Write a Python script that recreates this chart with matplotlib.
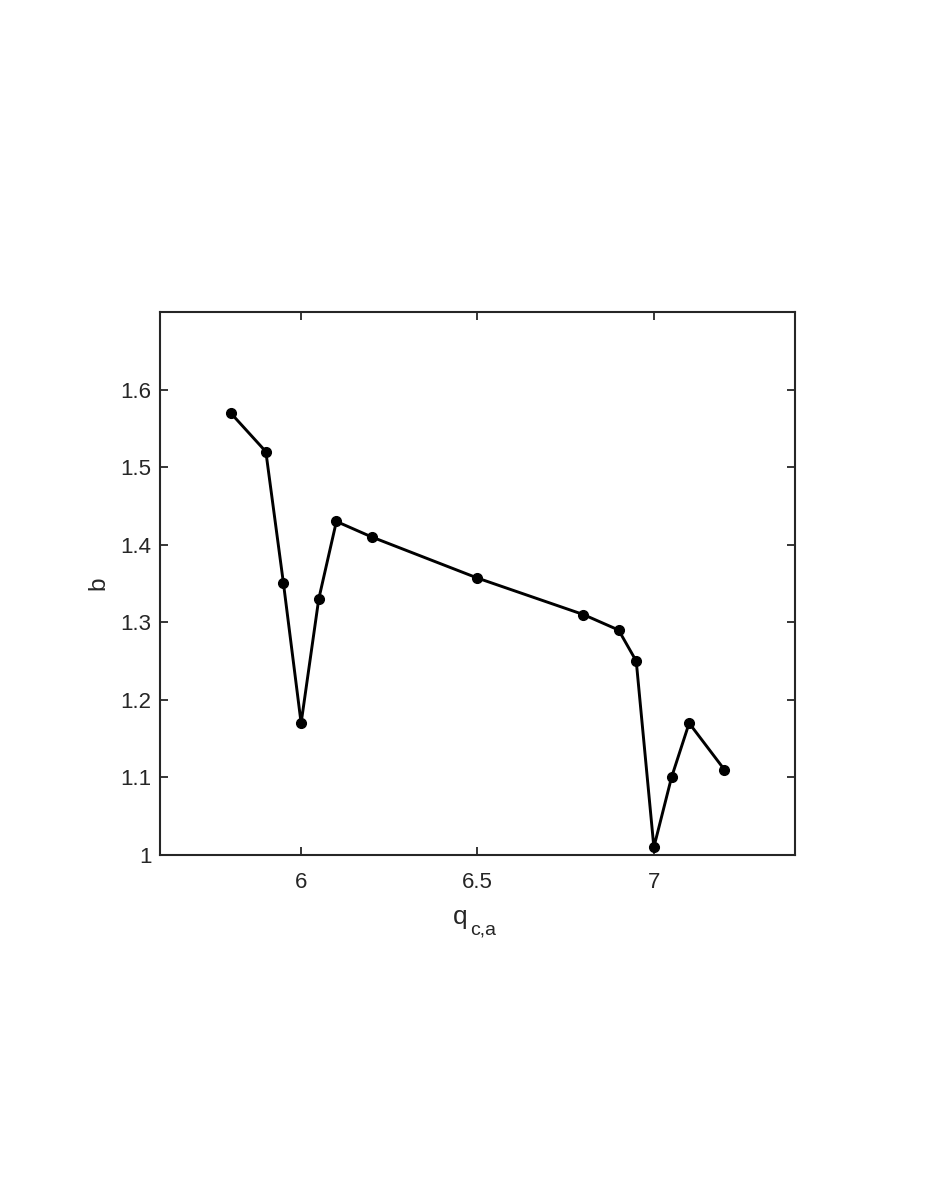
# b vs q_c,a curve, MATLAB-looking figure
import numpy as np
import matplotlib.pyplot as plt

# data
qca = [5.8, 5.9, 5.95, 6.0, 6.05, 6.1, 6.2, 6.5, 6.8, 6.9, 6.95, 7.0, 7.05, 7.1, 7.2]
bvals = [1.57, 1.52, 1.35, 1.17, 1.33, 1.43, 1.41, 1.357, 1.31, 1.29, 1.25, 1.01, 1.10, 1.17, 1.11]
xticks = [6, 6.5, 7]
xtlabels = ['6', '6.5', '7']
yticks = [1, 1.1, 1.2, 1.3, 1.4, 1.5, 1.6]
ytlabels = ['1', '1.1', '1.2', '1.3', '1.4', '1.5', '1.6']

plt.rcParams['font.family'] = ['Liberation Sans', 'DejaVu Sans']
axcol = '#262626'

fig = plt.figure(figsize=(9.26, 11.99), dpi=100)
ax = fig.add_axes([0.1728, 0.2869, 0.6857, 0.4529])

ax.plot(qca, bvals, '-o', color='k', linewidth=2.1, markersize=7)

ax.set_xlim(5.6, 7.4)
ax.set_ylim(1.0, 1.7)
ax.set_xticks(xticks)
ax.set_xticklabels(xtlabels)
ax.set_yticks(yticks)
ax.set_yticklabels(ytlabels)

# ticks inside, on all four sides
ax.tick_params(direction='in', top=True, right=True, length=6, width=1.3,
               colors=axcol, labelsize=16)
ax.tick_params(axis='x', pad=12)
ax.tick_params(axis='y', pad=6)
for s in ax.spines.values():
    s.set_color(axcol)
    s.set_linewidth(1.5)

# x label done by hand, matlab puts the subscript bigger and lower than mathtext
ax.annotate('q', xy=(0.5, 0), xycoords='axes fraction', xytext=(-17.6, -50),
            textcoords='offset points', ha='left', va='baseline',
            fontsize=19, color=axcol)
ax.annotate('c,a', xy=(0.5, 0), xycoords='axes fraction', xytext=(-5.4, -57),
            textcoords='offset points', ha='left', va='baseline',
            fontsize=14, color=axcol)
ax.set_ylabel('b', fontsize=17.6, color=axcol, labelpad=8)

fig.savefig('out.png', dpi=100)
